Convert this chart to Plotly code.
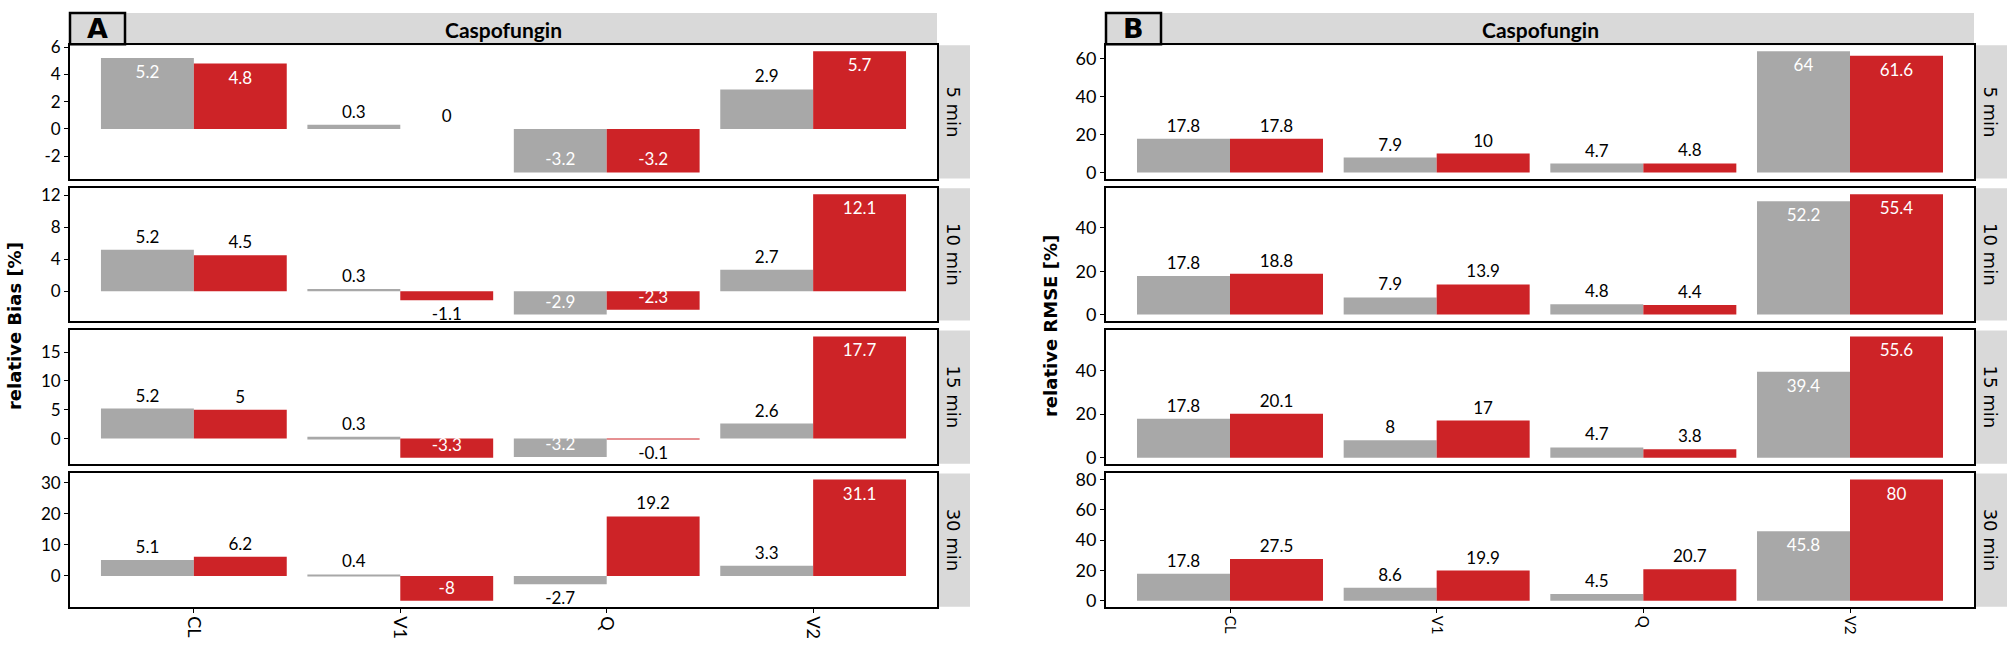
import plotly.graph_objects as go

# ---------------- data ----------------
params = ["CL", "V1", "Q", "V2"]
times = ["5 min", "10 min", "15 min", "30 min"]

bias_gray = [[5.2, 0.3, -3.2, 2.9],
             [5.2, 0.3, -2.9, 2.7],
             [5.2, 0.3, -3.2, 2.6],
             [5.1, 0.4, -2.7, 3.3]]
bias_red = [[4.8, 0.0, -3.2, 5.7],
            [4.5, -1.1, -2.3, 12.1],
            [5.0, -3.3, -0.1, 17.7],
            [6.2, -8.0, 19.2, 31.1]]
rmse_gray = [[17.8, 7.9, 4.7, 64.0],
             [17.8, 7.9, 4.8, 52.2],
             [17.8, 8.0, 4.7, 39.4],
             [17.8, 8.6, 4.5, 45.8]]
rmse_red = [[17.8, 10.0, 4.8, 61.6],
            [18.8, 13.9, 4.4, 55.4],
            [20.1, 17.0, 3.8, 55.6],
            [27.5, 19.9, 20.7, 80.0]]

# label inside the bar (1) or outside (0)
bias_gray_in = [[1, 0, 1, 0], [0, 0, 1, 0], [0, 0, 1, 0], [0, 0, 0, 0]]
bias_red_in = [[1, 0, 1, 1], [0, 0, 1, 1], [0, 1, 0, 1], [0, 1, 0, 1]]
rmse_gray_in = [[0, 0, 0, 1], [0, 0, 0, 1], [0, 0, 0, 1], [0, 0, 0, 1]]
rmse_red_in = [[0, 0, 0, 1], [0, 0, 0, 1], [0, 0, 0, 1], [0, 0, 0, 1]]

bias_ticks = [[-2, 0, 2, 4, 6], [0, 4, 8, 12], [0, 5, 10, 15], [0, 10, 20, 30]]
rmse_ticks = [[0, 20, 40, 60], [0, 20, 40], [0, 20, 40], [0, 20, 40, 60, 80]]

drug = "Caspofungin"
ytitles = ["relative Bias [%]", "relative RMSE [%]"]
panel_letters = ["A", "B"]

# ---------------- style / layout ----------------
W, H = 2008, 648
GRAY = "#A8A8A8"
RED = "#CD2327"
STRIP = "#D9D9D9"
FONT = "Lato"

col_px = [(70, 937), (1106, 1974)]
row_px = [(37, 173), (183, 318), (328, 464), (474, 610)]
strip_w = 33


def fx(p):
    return p / W


def fy(p):
    return 1 - p / H


fig = go.Figure()
layout = {}
shapes = []
annotations = []

panels = [
    (bias_gray, bias_red, bias_gray_in, bias_red_in, bias_ticks, 18, 17),
    (rmse_gray, rmse_red, rmse_gray_in, rmse_red_in, rmse_ticks, 15, 18),
]

for c, (g_vals, r_vals, g_in, r_in, ticks, xfs, yfs) in enumerate(panels):
    x0p, x1p = col_px[c]
    for r in range(4):
        k = r * 2 + c + 1
        xa = "x" if k == 1 else f"x{k}"
        ya = "y" if k == 1 else f"y{k}"
        for vals, flags, color in ((g_vals[r], g_in[r], GRAY), (r_vals[r], r_in[r], RED)):
            fig.add_trace(go.Bar(
                x=params, y=vals, xaxis=xa, yaxis=ya,
                marker=dict(color=color, line=dict(width=0)),
                text=[f"{v:g}" for v in vals],
                textposition=["inside" if f else "outside" for f in flags],
                insidetextanchor="end",
                insidetextfont=dict(color="white", size=17, family=FONT),
                outsidetextfont=dict(color="black", size=17, family=FONT),
                textangle=0, constraintext="none", cliponaxis=False,
                showlegend=False, hoverinfo="skip",
            ))
        allv = g_vals[r] + r_vals[r] + [0]
        lo, hi = min(allv), max(allv)
        pad = (hi - lo) * 0.05
        y0p, y1p = row_px[r]
        layout[f"xaxis{k}"] = dict(
            domain=[fx(x0p), fx(x1p)], anchor=ya, type="category",
            range=[-0.6, 3.6], showgrid=False, zeroline=False,
            showline=True, mirror=True, linecolor="black", linewidth=1.8,
            ticks="outside" if r == 3 else "", ticklen=4, tickcolor="black",
            showticklabels=(r == 3), tickangle=90,
            tickfont=dict(family=FONT, size=xfs, color="black"),
        )
        layout[f"yaxis{k}"] = dict(
            domain=[fy(y1p), fy(y0p)], anchor=xa,
            range=[lo - pad, hi + pad], showgrid=False, zeroline=False,
            showline=True, mirror=True, linecolor="black", linewidth=1.8,
            ticks="outside", ticklen=4, tickcolor="black",
            tickvals=ticks[r], ticktext=[str(t) for t in ticks[r]],
            tickfont=dict(family=FONT, size=yfs, color="black"),
        )
        # right strip
        shapes.append(dict(type="rect", xref="paper", yref="paper",
                           x0=fx(x1p), x1=fx(x1p + strip_w), y0=fy(y1p), y1=fy(y0p),
                           fillcolor=STRIP, line=dict(width=0), layer="below"))
        annotations.append(dict(xref="paper", yref="paper",
                                x=fx(x1p + strip_w / 2), y=fy((y0p + y1p) / 2),
                                text=times[r], textangle=90, showarrow=False,
                                font=dict(family="DejaVu Sans", size=18, color="black"),
                                xanchor="center", yanchor="middle"))
    # top strip
    top = row_px[0][0]
    shapes.append(dict(type="rect", xref="paper", yref="paper",
                       x0=fx(x0p), x1=fx(x1p), y0=fy(top), y1=fy(4),
                       fillcolor=STRIP, line=dict(width=0), layer="below"))
    annotations.append(dict(xref="paper", yref="paper",
                            x=fx((x0p + x1p) / 2), y=fy((top + 4) / 2),
                            text=f"<b>{drug}</b>", showarrow=False,
                            font=dict(family=FONT, size=21, color="black"),
                            xanchor="center", yanchor="middle"))
    # panel letter box
    shapes.append(dict(type="rect", xref="paper", yref="paper",
                       x0=fx(x0p), x1=fx(x0p + 55), y0=fy(36), y1=fy(4),
                       fillcolor=STRIP, line=dict(width=2.5, color="black")))
    annotations.append(dict(xref="paper", yref="paper",
                            x=fx(x0p + 27.5), y=fy(20),
                            text=f"<b>{panel_letters[c]}</b>", showarrow=False,
                            font=dict(family="DejaVu Sans", size=27, color="black"),
                            xanchor="center", yanchor="middle"))
    # y title
    annotations.append(dict(xref="paper", yref="paper",
                            x=fx(x0p - 56), y=fy((row_px[0][0] + row_px[3][1]) / 2),
                            text=f"<b>{ytitles[c]}</b>", textangle=-90, showarrow=False,
                            font=dict(family="DejaVu Sans", size=18, color="black"),
                            xanchor="center", yanchor="middle"))

layout["annotations"] = annotations
layout["shapes"] = shapes
fig.update_layout(**layout)
fig.update_layout(
    width=W, height=H, margin=dict(l=0, r=0, t=0, b=0),
    paper_bgcolor="white", plot_bgcolor="white",
    barmode="group", bargap=0.1, bargroupgap=0,
    font=dict(family=FONT, color="black"),
)

fig.write_html("out.html", config={"displayModeBar": False})

# remove default page margin so the 2008x648 figure fits the window exactly
with open("out.html", "r", encoding="utf-8") as f:
    html = f.read()
html = html.replace("<head>", "<head><style>html,body{margin:0;padding:0;overflow:hidden;}</style>", 1)
with open("out.html", "w", encoding="utf-8") as f:
    f.write(html)
